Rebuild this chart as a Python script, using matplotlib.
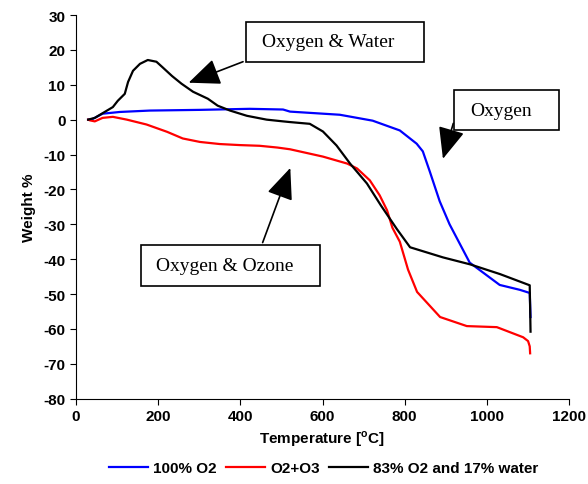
import matplotlib.pyplot as plt
from matplotlib.patches import Rectangle

plt.rcParams['font.family'] = 'Liberation Sans'
plt.rcParams['font.weight'] = 'bold'
plt.rcParams['axes.labelweight'] = 'bold'
plt.rcParams['axes.unicode_minus'] = False
plt.rcParams['mathtext.fontset'] = 'custom'
plt.rcParams['mathtext.bf'] = 'Liberation Sans:bold'
plt.rcParams['mathtext.rm'] = 'Liberation Sans:bold'

# 100% O2
temp_o2 = [30, 41, 65, 107, 180, 302, 423, 504, 521, 642, 722, 788, 829, 844,
           861, 885, 909, 958, 1031, 1080, 1104, 1105, 1106]
weight_o2 = [0, 0.2, 1.7, 2.2, 2.6, 2.8, 3.1, 2.9, 2.3, 1.4, -0.3, -3.1, -6.9,
             -9.1, -14.9, -23.4, -30, -41, -47.4, -48.8, -49.7, -53, -56.6]

# O2+O3
temp_o3 = [30, 34, 46, 65, 90, 124, 172, 222, 260, 302, 350, 399, 447, 490,
           521, 601, 660, 684, 715, 739, 757, 770, 788, 808, 830, 886, 951,
           1024, 1088, 1100, 1104, 1105]
weight_o3 = [0, -0.2, -0.5, 0.5, 0.8, 0, -1.4, -3.5, -5.4, -6.4, -7, -7.3,
             -7.5, -8.0, -8.5, -10.6, -12.6, -14, -17.4, -21.7, -26, -31, -35,
             -43, -49.4, -56.6, -59.2, -59.5, -62.4, -63.5, -65, -67]

# 83% O2 and 17% water
temp_w = [30, 46, 90, 102, 119, 127, 139, 156, 175, 196, 211, 234, 257, 285,
          321, 345, 375, 416, 464, 504, 521, 569, 601, 634, 667, 708, 742,
          781, 813, 893, 959, 1032, 1104, 1105, 1106]
weight_w = [0, 0.5, 3.6, 5.4, 7.4, 10.8, 14, 16, 17.1, 16.6, 15, 12.5, 10.3,
            8, 6, 4, 2.6, 1.1, 0, -0.5, -0.7, -1.2, -3.4, -7.4, -12.6, -18.3,
            -24.6, -31.4, -36.6, -39.5, -41.5, -44.3, -47.5, -54, -60.8]

xticks = list(range(0, 1201, 200))
yticks = list(range(-80, 31, 10))

fig = plt.figure(figsize=(5.88, 4.85), dpi=100)
ax = fig.add_axes([0.129, 0.176, 0.839, 0.791])

ax.plot(temp_o2, weight_o2, color='#0000ff', lw=1.6, label='100% O2')
ax.plot(temp_o3, weight_o3, color='#ff0000', lw=1.6, label='O2+O3')
ax.plot(temp_w, weight_w, color='black', lw=1.6, label='83% O2 and 17% water')

ax.set_xlim(0, 1200)
ax.set_ylim(-80, 30)
ax.set_xticks(xticks, [str(t) for t in xticks], fontweight='bold', fontsize=11)
ax.set_yticks(yticks, [str(t) for t in yticks], fontweight='bold', fontsize=11)
for s in ['top', 'right']:
    ax.spines[s].set_visible(False)
ax.tick_params(direction='out', length=4)

ax.set_xlabel(r'Temperature [$^\mathbf{o}$C]', fontsize=11, fontweight='bold',
              labelpad=4)
ax.set_ylabel('Weight %', fontsize=11, fontweight='bold', labelpad=5)

# annotation boxes
def note(x0, x1, y0, y1, tx, label, start, tip):
    ax.add_patch(Rectangle((x0, y0), x1 - x0, y1 - y0, fill=True, fc='white',
                           ec='black', lw=1.2, zorder=5, clip_on=False))
    ax.text(tx, (y0 + y1) / 2, label, family='Liberation Serif',
            fontweight='normal', fontsize=14, ha='left', va='center', zorder=6)
    ax.annotate('', xy=tip, xytext=start, zorder=6,
                arrowprops=dict(arrowstyle='-|>,head_length=1.3,head_width=0.55',
                                mutation_scale=15, color='black', lw=1.2))

note(413, 848, 16.6, 28, 452, 'Oxygen & Water', (413, 16.9), (268, 10.3))
note(159, 594, -47.7, -36, 196, 'Oxygen & Ozone', (452, -36), (524, -13.1))
note(920, 1176, -3.1, 8.6, 959, 'Oxygen', (920, -0.3), (891, -12))

leg = fig.legend(loc='lower center', ncol=3, frameon=False,
                 bbox_to_anchor=(0.55, -0.01), handlelength=2.6,
                 columnspacing=0.6, handletextpad=0.3,
                 prop={'weight': 'bold', 'size': 11})

fig.savefig('out.png', dpi=100)
